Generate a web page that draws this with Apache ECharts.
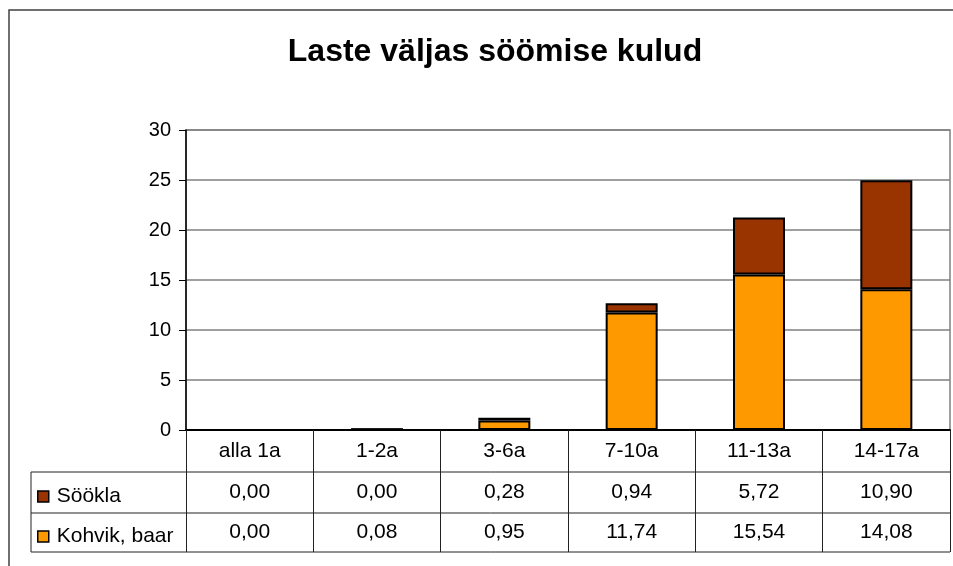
<!DOCTYPE html>
<html>
<head>
<meta charset="utf-8">
<script src="https://cdn.jsdelivr.net/npm/echarts@6/dist/echarts.min.js"></script>
<style>
  html, body { margin: 0; padding: 0; background: #fff; }
  #chart { width: 953px; height: 566px; }
</style>
</head>
<body>
<div id="chart"></div>
<script>
// andmed
var categories = ['alla 1a', '1-2a', '3-6a', '7-10a', '11-13a', '14-17a'];
var sookla = [0.00, 0.00, 0.28, 0.94, 5.72, 10.90];
var kohvik = [0.00, 0.08, 0.95, 11.74, 15.54, 14.08];
var yTicks = [0, 5, 10, 15, 20, 25, 30];

var FONT = 'Liberation Sans, Arial, sans-serif';

function fmt(v) {
  return v.toFixed(2).replace('.', ',');
}

var myChart = echarts.init(document.getElementById('chart'));

// rea tekstid tabelis, iga rida eraldi x-telg
function rowAxis(values, margin) {
  return {
    type: 'category',
    gridIndex: 0,
    position: 'bottom',
    data: categories,
    axisLine: { show: false },
    axisTick: { show: false },
    splitLine: { show: false },
    axisLabel: {
      interval: 0,
      margin: margin,
      verticalAlign: 'middle',
      color: '#000',
      fontSize: 21,
      fontFamily: FONT,
      formatter: function (v, i) { return fmt(values[i]); }
    }
  };
}

function legendFor(name, top) {
  return {
    data: [name],
    left: 32,
    top: top,
    orient: 'vertical',
    selectedMode: false,
    icon: 'rect',
    itemWidth: 11,
    itemHeight: 11,
    itemStyle: { borderColor: '#000', borderWidth: 1.5 },
    textStyle: { color: '#000', fontSize: 21, fontFamily: FONT, padding: [0, 0, 0, 3] }
  };
}

var tableLine = { stroke: '#222', lineWidth: 1 };

var option = {
  animation: false,
  backgroundColor: '#fff',
  title: {
    text: 'Laste väljas söömise kulud',
    left: 490,
    top: 31,
    textAlign: 'center',
    textStyle: { fontSize: 32, fontWeight: 'bold', color: '#000', fontFamily: FONT }
  },
  legend: [
    legendFor('Söökla', 481),
    legendFor('Kohvik, baar', 521)
  ],
  grid: {
    left: 186,
    right: 3,
    top: 130,
    bottom: 136,
    show: true,
    borderColor: '#808080',
    borderWidth: 1.5
  },
  xAxis: [
    {
      type: 'category',
      data: categories,
      axisLine: { lineStyle: { color: '#000', width: 2 } },
      axisTick: { show: true, length: 122, lineStyle: { color: '#222', width: 1 } },
      axisLabel: {
        interval: 0,
        margin: 21,
        verticalAlign: 'middle',
        color: '#000',
        fontSize: 21,
        fontFamily: FONT
      }
    },
    rowAxis(sookla, 62.5),
    rowAxis(kohvik, 102.5)
  ],
  yAxis: {
    type: 'value',
    min: yTicks[0],
    max: yTicks[yTicks.length - 1],
    interval: 5,
    axisLine: { show: true, lineStyle: { color: '#000', width: 1.5 } },
    axisTick: { show: true, length: 7, lineStyle: { color: '#000', width: 1 } },
    axisLabel: { margin: 15, color: '#000', fontSize: 20, fontFamily: FONT },
    splitLine: { lineStyle: { color: '#808080', width: 1.5 } }
  },
  series: [
    {
      name: 'Kohvik, baar',
      type: 'bar',
      stack: 'kulud',
      barWidth: 52,
      data: kohvik,
      itemStyle: { color: '#FF9900', borderColor: '#000', borderWidth: 2 }
    },
    {
      name: 'Söökla',
      type: 'bar',
      stack: 'kulud',
      barWidth: 52,
      data: sookla,
      itemStyle: { color: '#993300', borderColor: '#000', borderWidth: 2 }
    }
  ],
  graphic: [
    // välimine raam
    { type: 'rect', silent: true, shape: { x: 9, y: 10, width: 1000, height: 600 },
      style: { fill: null, stroke: '#404040', lineWidth: 1.5 } },
    // tabeli jooned
    { type: 'line', silent: true, shape: { x1: 31, y1: 472, x2: 950, y2: 472 }, style: tableLine },
    { type: 'line', silent: true, shape: { x1: 31, y1: 513, x2: 950, y2: 513 }, style: tableLine },
    { type: 'line', silent: true, shape: { x1: 31, y1: 552, x2: 950, y2: 552 }, style: tableLine },
    { type: 'line', silent: true, shape: { x1: 31, y1: 472, x2: 31, y2: 552 }, style: tableLine }
  ]
};

myChart.setOption(option);
</script>
</body>
</html>
